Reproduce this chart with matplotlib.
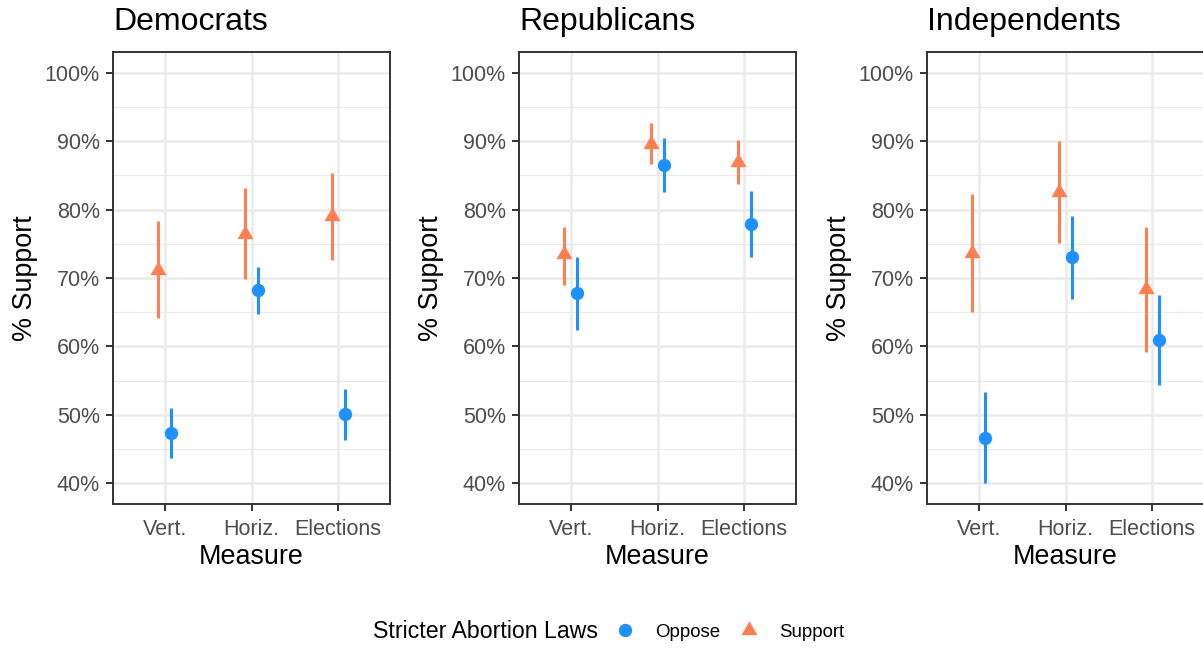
import numpy as np
import matplotlib
matplotlib.use("Agg")
import matplotlib.pyplot as plt
from matplotlib.lines import Line2D

plt.rcParams['font.family'] = ['Liberation Sans', 'DejaVu Sans']

measures = ["Vert.", "Horiz.", "Elections"]
parties = ["Democrats", "Republicans", "Independents"]

# % support, with lower / upper interval bounds, per party and measure
support_est = {"Democrats": [71.2, 76.4, 79.0],
               "Republicans": [73.5, 89.6, 87.0],
               "Independents": [73.7, 82.6, 68.4]}
support_lo = {"Democrats": [64.2, 69.9, 72.6],
              "Republicans": [69.0, 86.7, 83.7],
              "Independents": [65.0, 75.1, 59.2]}
support_hi = {"Democrats": [78.3, 83.1, 85.3],
              "Republicans": [77.5, 92.6, 90.2],
              "Independents": [82.2, 90.0, 77.5]}

oppose_est = {"Democrats": [47.4, 68.2, 50.2],
              "Republicans": [67.8, 86.5, 77.9],
              "Independents": [46.7, 73.0, 61.0]}
oppose_lo = {"Democrats": [43.7, 64.8, 46.4],
             "Republicans": [62.4, 82.5, 73.1],
             "Independents": [40.0, 67.0, 54.4]}
oppose_hi = {"Democrats": [51.0, 71.6, 53.8],
             "Republicans": [73.1, 90.4, 82.7],
             "Independents": [53.4, 79.0, 67.5]}

blue = "#1E90FF"
orange = "#FF7F50"
tri = [(0, 1), (-0.866, -0.5), (0.866, -0.5)]

W, H = 1203, 649
fig = plt.figure(figsize=(W / 100, H / 100), dpi=100)

lefts = [113, 519, 927]
pw = 277
top, bottom = 52, 504
x = np.arange(1, 4)
dodge = 0.075

for left, party in zip(lefts, parties):
    ax = fig.add_axes([left / W, 1 - bottom / H, pw / W, (bottom - top) / H])
    ax.set_xlim(0.4, 3.6)
    ax.set_ylim(37, 103)
    ax.set_yticks(np.arange(40, 101, 10))
    ax.set_yticks(np.arange(45, 100, 10), minor=True)
    ax.set_yticklabels([f"{v}%" for v in range(40, 101, 10)])
    ax.set_xticks(x)
    ax.set_xticklabels(measures)
    ax.grid(True, which='major', color='#EBEBEB', linewidth=1.8)
    ax.grid(True, which='minor', axis='y', color='#EBEBEB', linewidth=0.9)
    ax.set_axisbelow(True)
    for s in ax.spines.values():
        s.set_color('#333333')
        s.set_linewidth(1.4)
    ax.tick_params(axis='both', which='major', length=5, width=1.4,
                   color='#333333', labelsize=15.5, labelcolor='#4D4D4D')
    ax.tick_params(axis='x', pad=6)
    ax.tick_params(axis='y', pad=4.5)
    ax.tick_params(axis='y', which='minor', length=0)

    xs = x - dodge
    ax.vlines(xs, support_lo[party], support_hi[party], color=orange, linewidth=2.2, zorder=3)
    ax.plot(xs, support_est[party], linestyle='none', marker=tri, markersize=13.3,
            color=orange, markeredgewidth=0, zorder=4)
    xo = x + dodge
    ax.vlines(xo, oppose_lo[party], oppose_hi[party], color=blue, linewidth=2.2, zorder=3)
    ax.plot(xo, oppose_est[party], linestyle='none', marker='o', markersize=9.6,
            color=blue, markeredgewidth=0, zorder=4)

    ax.set_title(party, loc='left', fontsize=23, pad=15.8)
    ax.set_ylabel("% Support", fontsize=19.4, labelpad=5)
    ax.set_xlabel("Measure", fontsize=19.4, labelpad=2.5)

# legend along the bottom
fig.text(373 / W, 1 - 632 / H, "Stricter Abortion Laws", fontsize=16.7,
         ha='left', va='center')
handles = [Line2D([], [], linestyle='none', marker='o', markersize=9.6,
                  color=blue, markeredgewidth=0),
           Line2D([], [], linestyle='none', marker=tri, markersize=13.3,
                  color=orange, markeredgewidth=0)]
fig.legend(handles, ["Oppose", "Support"], loc='center left',
           bbox_to_anchor=(616 / W, 1 - 632 / H), ncol=2, frameon=False,
           fontsize=13.4, handlelength=1.0, handletextpad=1.11,
           columnspacing=1.05, borderaxespad=0, borderpad=0)

fig.savefig("out.png", dpi=100)
